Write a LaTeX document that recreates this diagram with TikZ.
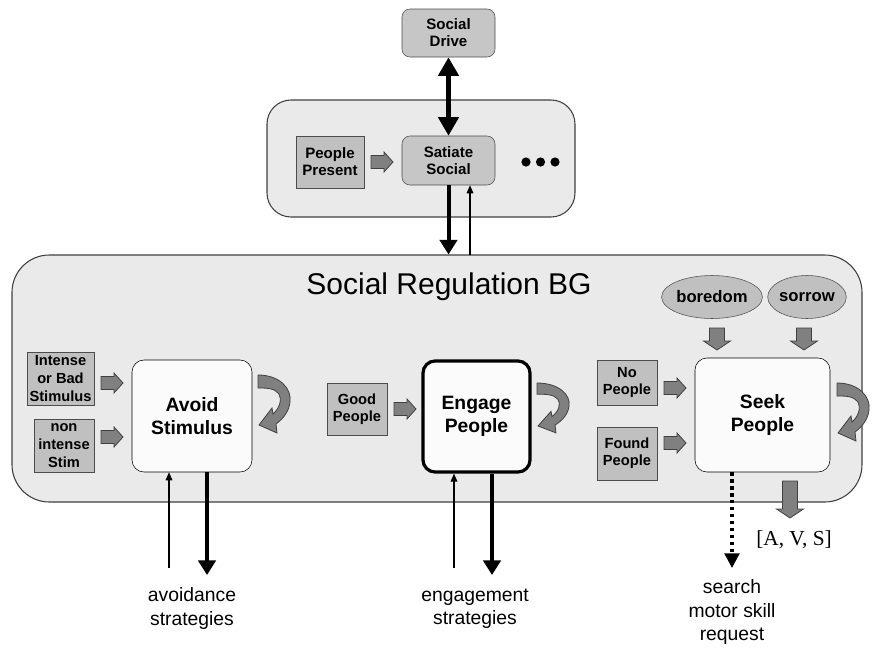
\documentclass[tikz,border=0pt]{standalone}
\usepackage{fontspec}
\setmainfont{Liberation Sans}
\newfontfamily\timesfont{Liberation Serif}
\usetikzlibrary{arrows.meta,shapes.geometric}
\definecolor{panelgray}{HTML}{EAEAEA}
\definecolor{boxgray}{HTML}{C0C0C0}
\definecolor{topgray}{HTML}{C6C6C6}
\definecolor{blkfill}{HTML}{808080}
\definecolor{blkdraw}{HTML}{404040}
\definecolor{whitebox}{HTML}{FBFBFB}
\begin{document}
\begin{tikzpicture}[x=0.75pt,y=-0.75pt,
  panel/.style={draw=black!75, fill=panelgray, line width=0.8pt},
  smallbox/.style={draw=black!70, fill=boxgray, inner sep=0pt, align=center,
    font=\fontsize{11}{12.8}\selectfont\bfseries},
  topbox/.style={smallbox, fill=topgray, rounded corners=6pt,
    font=\fontsize{11.3}{12.8}\selectfont\bfseries},
  bigbox/.style={draw=black, fill=whitebox, rounded corners=9pt, inner sep=0pt,
    align=center, font=\fontsize{14.5}{17}\selectfont\bfseries},
  moodell/.style={ellipse, draw=black!70, fill=boxgray, inner sep=0pt,
    font=\fontsize{12.5}{14}\selectfont\bfseries},
  heavy/.style={line width=3pt, -{Triangle[length=11pt,width=13pt]}},
  heavydbl/.style={line width=3.5pt, {Triangle[length=14pt,width=15pt]}-{Triangle[length=14pt,width=15pt]}},
  light/.style={line width=0.8pt, -{Triangle[length=6pt,width=5pt]}},
  dottedarrow/.style={line width=2.5pt, dash pattern=on 2.6pt off 2.6pt, -{Triangle[length=11pt,width=11pt]}},
  blk/.style={draw=blkdraw, fill=blkfill, line width=0.6pt},
  bottomtext/.style={align=center, font=\fontsize{14.5}{17.5}\selectfont},
  rblk/.pic={\draw[blk] (-11,-6.5) -- (2,-6.5) -- (2,-10) -- (11,0) -- (2,10) -- (2,6.5) -- (-11,6.5) -- cycle;},
  dblk/.pic={\draw[blk] (-7.5,{-#1/2}) -- (7.5,{-#1/2}) -- (7.5,{#1/2-9}) -- (13.5,{#1/2-9}) -- (0,{#1/2}) -- (-13.5,{#1/2-9}) -- (-7.5,{#1/2-9}) -- cycle;},
  uturn/.pic={\draw[blk] (0,0) .. controls (22,0) and (34,14) .. (32,27) .. controls (31,36) and (26,43) .. (18,49) -- (19,58) -- (1,50) -- (14,33) -- (15,39) .. controls (22,33) and (24,24) .. (21,19) .. controls (17,13) and (8,13) .. (0,13) -- cycle;}
]
\useasboundingbox (0,0) rectangle (872,647);

% top section
\node[panel, rounded corners=18pt, minimum width=231pt, minimum height=87.75pt] (top) at (421,158.5) {};
\node[topbox, minimum width=69.75pt, minimum height=36pt] (sd) at (448.5,33) {Social\\Drive};
\node[topbox, minimum width=69.75pt, minimum height=36.75pt] (sat) at (448.5,160.5) {Satiate\\Social};
\node[smallbox, minimum width=51pt, minimum height=39pt, font=\fontsize{11.3}{12.8}\selectfont\bfseries] (pp) at (330,162) {People\\Present};
\pic at (382,162) {rblk};
\fill (526,162) circle (4.6);
\fill (540.5,162) circle (4.6);
\fill (555,162) circle (4.6);

% main panel
\node[panel, rounded corners=28pt, minimum width=637.5pt, minimum height=185.25pt] (main) at (437,378.5) {};
\node[font=\fontsize{22.5}{26}\selectfont] (title) at (449,287) {Social Regulation BG};

\draw[heavydbl] (sd) -- (sat);
\draw[heavy] (sat.south) -- (sat.south |- main.north);
\coordinate (up1) at (470,255);
\draw[light] (up1) -- (up1 |- sat.south);

% avoid
\node[bigbox, minimum width=90pt, minimum height=84pt] (av) at (192,416) {Avoid\\Stimulus};
\node[smallbox, minimum width=50.25pt, minimum height=39.75pt, font=\fontsize{11}{13.5}\selectfont\bfseries] (ib) at (60.5,378.5) {Intense\\or Bad\\Stimulus};
\node[smallbox, minimum width=45pt, minimum height=39.75pt, font=\fontsize{11}{13.5}\selectfont\bfseries] (ni) at (64,445.5) {non\\intense\\Stim};
\pic at (112,383) {rblk};
\pic at (112,437) {rblk};
\pic at (258,375) {uturn};

% engage
\node[bigbox, line width=2.4pt, minimum width=80.25pt, minimum height=83.25pt] (en) at (476.5,416.5) {Engage\\People};
\node[smallbox, minimum width=45pt, minimum height=39pt] (gp) at (357,409) {Good\\People};
\pic at (405,409) {rblk};
\pic[yscale=0.86] at (537,383) {uturn};

% seek
\node[bigbox, minimum width=101.25pt, minimum height=85.5pt] (sk) at (762.5,415) {Seek\\People};
\node[smallbox, minimum width=45pt, minimum height=33.75pt] (np) at (627,382.5) {No\\People};
\node[smallbox, minimum width=45pt, minimum height=39.75pt] (fp) at (627,453.5) {Found\\People};
\pic at (675,388) {rblk};
\pic at (675,443) {rblk};
\node[moodell, minimum width=58.5pt, minimum height=32.25pt] (bo) at (712,297) {boredom};
\node[moodell, minimum width=54.75pt, minimum height=32.25pt] (so) at (807,297) {sorrow};
\pic at (717,339) {dblk=22};
\pic at (804,339) {dblk=22};
\pic at (790,499.5) {dblk=37};
\pic at (837,383) {uturn};

% outputs
\coordinate (a1) at (169,568);
\coordinate (a2) at (207,575);
\draw[light] (a1) -- (a1 |- av.south);
\draw[heavy] (a2 |- av.south) -- (a2);
\coordinate (e1) at (454,568);
\coordinate (e2) at (492,575);
\draw[light] (e1) -- (e1 |- en.south);
\draw[heavy] (e2 |- en.south) -- (e2);
\coordinate (s1) at (732,568);
\draw[dottedarrow] (s1 |- sk.south) -- (s1);

\node[bottomtext] (avt) at (192,608.5) {avoidance\\strategies};
\node[bottomtext] (ent) at (475,608.5) {engagement\\strategies};
\node[bottomtext] (sst) at (732,612) {search\\motor skill\\request};
\node[font=\timesfont\fontsize{16}{18}\selectfont] (avs) at (794,540) {[A, V, S]};
\end{tikzpicture}
\end{document}
